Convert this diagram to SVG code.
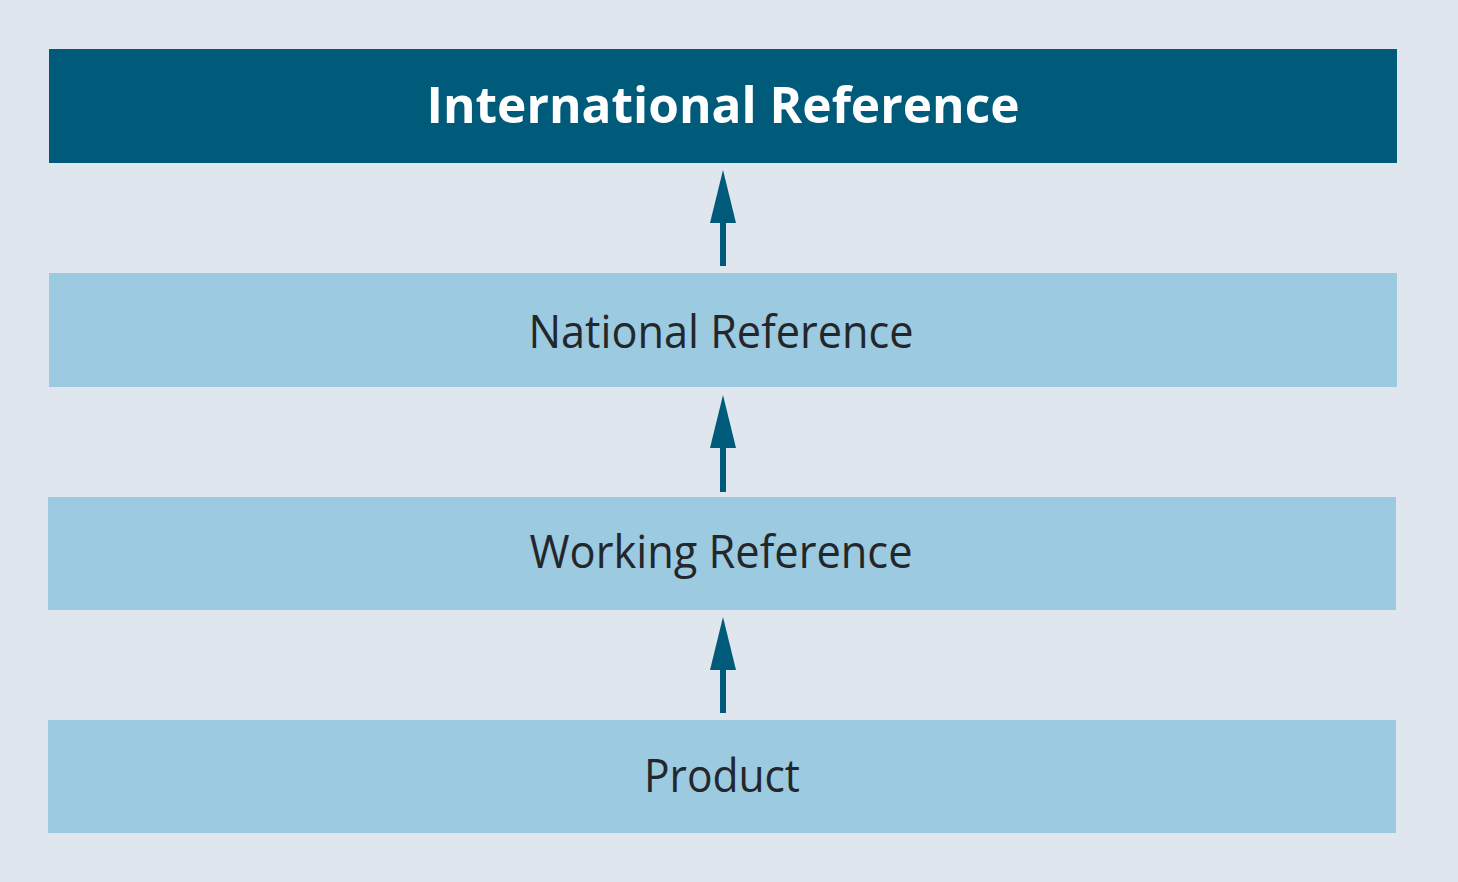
<svg xmlns="http://www.w3.org/2000/svg" width="1458" height="882" viewBox="0 0 1458 882">
<defs>
<style>
.bg{fill:#dfe6ed}
.dark{fill:#005b7a}
.light{fill:#9ccae0}
.t{font-family:"Open Sans","Noto Sans","Liberation Sans",sans-serif;font-size:46px;fill:#23272b;text-anchor:middle}
.tb{font-family:"Open Sans","Noto Sans","Liberation Sans",sans-serif;font-size:50px;font-weight:bold;fill:#ffffff;text-anchor:middle}
.shaft{stroke:#005b7a;stroke-width:6;fill:none}
.head{fill:#005b7a}
</style>
</defs>
<rect class="bg" x="0" y="0" width="1458" height="882"/>
<g id="international">
<rect class="dark" x="49" y="49" width="1348" height="114"/>
<text class="tb" x="723" y="123" textLength="593" lengthAdjust="spacingAndGlyphs">International Reference</text>
</g>
<g id="national">
<rect class="light" x="49" y="273" width="1348" height="114"/>
<text class="t" x="721" y="348" textLength="385" lengthAdjust="spacingAndGlyphs">National Reference</text>
</g>
<g id="working">
<rect class="light" x="48" y="497" width="1348" height="113"/>
<text class="t" x="721" y="568" textLength="383" lengthAdjust="spacingAndGlyphs">Working Reference</text>
</g>
<g id="product">
<rect class="light" x="48" y="720" width="1348" height="113"/>
<text class="t" x="722" y="792" textLength="156" lengthAdjust="spacingAndGlyphs">Product</text>
</g>
<g id="connectors">
<line class="shaft" x1="723" y1="266" x2="723" y2="218"/>
<polygon class="head" points="723,170 736,223 710,223"/>
<line class="shaft" x1="723" y1="492" x2="723" y2="443"/>
<polygon class="head" points="723,395 736,448 710,448"/>
<line class="shaft" x1="723" y1="713" x2="723" y2="665"/>
<polygon class="head" points="723,617 736,670 710,670"/>
</g>
</svg>
